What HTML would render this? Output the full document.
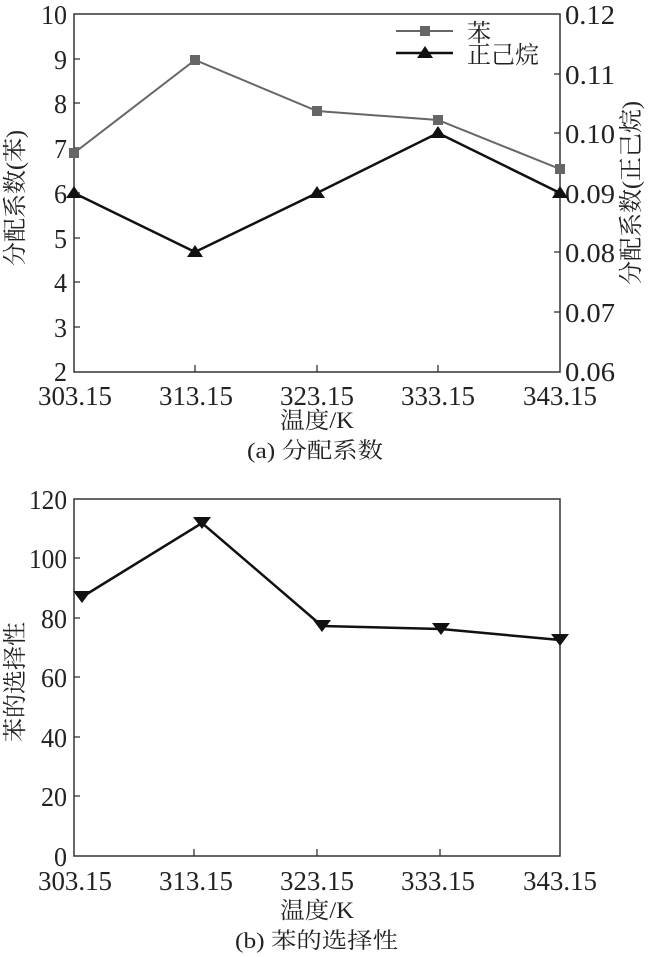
<!DOCTYPE html>
<html><head><meta charset="utf-8"><style>
html,body{margin:0;padding:0;background:#fff;}
svg{display:block;}
text{font-family:"Liberation Serif","Noto Serif CJK SC",serif;fill:#222;}
</style></head><body>
<svg width="650" height="957" viewBox="0 0 650 957" xmlns="http://www.w3.org/2000/svg">
<!-- Top chart -->
<rect x="74" y="14" width="486" height="358" fill="none" stroke="#333" stroke-width="1.5"/>
<g stroke="#333" stroke-width="1.3">
<line x1="74" y1="59" x2="80" y2="59"/><line x1="74" y1="103" x2="80" y2="103"/><line x1="74" y1="148" x2="80" y2="148"/>
<line x1="74" y1="193" x2="80" y2="193"/><line x1="74" y1="238" x2="80" y2="238"/><line x1="74" y1="282" x2="80" y2="282"/><line x1="74" y1="327" x2="80" y2="327"/>
<line x1="560" y1="74" x2="554" y2="74"/><line x1="560" y1="133" x2="554" y2="133"/><line x1="560" y1="193" x2="554" y2="193"/>
<line x1="560" y1="252" x2="554" y2="252"/><line x1="560" y1="312" x2="554" y2="312"/>
<line x1="195" y1="372" x2="195" y2="365"/><line x1="317" y1="372" x2="317" y2="365"/><line x1="438" y1="372" x2="438" y2="365"/>
</g>
<g font-size="27" text-anchor="end">
<text x="67" y="24" textLength="26" lengthAdjust="spacingAndGlyphs">10</text>
<text x="67" y="69" textLength="13" lengthAdjust="spacingAndGlyphs">9</text>
<text x="67" y="113" textLength="13" lengthAdjust="spacingAndGlyphs">8</text>
<text x="67" y="158" textLength="13" lengthAdjust="spacingAndGlyphs">7</text>
<text x="67" y="203" textLength="13" lengthAdjust="spacingAndGlyphs">6</text>
<text x="67" y="248" textLength="13" lengthAdjust="spacingAndGlyphs">5</text>
<text x="67" y="292" textLength="13" lengthAdjust="spacingAndGlyphs">4</text>
<text x="67" y="337" textLength="13" lengthAdjust="spacingAndGlyphs">3</text>
<text x="67" y="381" textLength="13" lengthAdjust="spacingAndGlyphs">2</text>
</g>
<g font-size="27" text-anchor="start">
<text x="565" y="24" textLength="50" lengthAdjust="spacingAndGlyphs">0.12</text>
<text x="565" y="84" textLength="50" lengthAdjust="spacingAndGlyphs">0.11</text>
<text x="565" y="143" textLength="50" lengthAdjust="spacingAndGlyphs">0.10</text>
<text x="565" y="203" textLength="50" lengthAdjust="spacingAndGlyphs">0.09</text>
<text x="565" y="262" textLength="50" lengthAdjust="spacingAndGlyphs">0.08</text>
<text x="565" y="322" textLength="50" lengthAdjust="spacingAndGlyphs">0.07</text>
<text x="565" y="381" textLength="50" lengthAdjust="spacingAndGlyphs">0.06</text>
</g>
<g font-size="27">
<text x="38" y="405" textLength="74" lengthAdjust="spacingAndGlyphs">303.15</text>
<text x="159" y="405" textLength="74" lengthAdjust="spacingAndGlyphs">313.15</text>
<text x="280" y="405" textLength="74" lengthAdjust="spacingAndGlyphs">323.15</text>
<text x="401" y="405" textLength="74" lengthAdjust="spacingAndGlyphs">333.15</text>
<text x="523" y="405" textLength="74" lengthAdjust="spacingAndGlyphs">343.15</text>
</g>
<text x="280" y="428" font-size="23" textLength="74" lengthAdjust="spacingAndGlyphs">温度/K</text>
<text x="247" y="458" font-size="22" textLength="136" lengthAdjust="spacingAndGlyphs">(a) 分配系数</text>
<text font-size="24" text-anchor="middle" transform="translate(23,198) rotate(-90)">分配系数(苯)</text>
<text font-size="24" text-anchor="middle" transform="translate(639,193) rotate(-90)">分配系数(正己烷)</text>
<polyline points="74,153 195,60 317,111 438,120 560,169" fill="none" stroke="#666" stroke-width="2"/>
<g fill="#666">
<rect x="69" y="148" width="10" height="10"/><rect x="190" y="55" width="10" height="10"/><rect x="312" y="106" width="10" height="10"/>
<rect x="433" y="115" width="10" height="10"/><rect x="555" y="164" width="10" height="10"/>
</g>
<polyline points="74,193 195,252 317,193 438,133 560,193" fill="none" stroke="#111" stroke-width="2.5"/>
<g fill="#111">
<polygon points="74,186 82,198 66,198"/><polygon points="195,245 203,257 187,257"/><polygon points="317,186 325,198 309,198"/>
<polygon points="438,126 446,138 430,138"/><polygon points="560,186 568,198 552,198"/>
</g>
<line x1="396" y1="31" x2="453" y2="31" stroke="#666" stroke-width="2"/><rect x="420" y="26" width="10" height="10" fill="#666"/>
<line x1="396" y1="53" x2="453" y2="53" stroke="#111" stroke-width="2.5"/><polygon points="425,46 433,58 417,58" fill="#111"/>
<text x="467" y="41" font-size="24">苯</text>
<text x="467" y="63" font-size="24">正己烷</text>

<!-- Bottom chart -->
<rect x="74" y="499" width="486" height="357" fill="none" stroke="#333" stroke-width="1.5"/>
<g stroke="#333" stroke-width="1.3">
<line x1="74" y1="558" x2="80" y2="558"/><line x1="74" y1="618" x2="80" y2="618"/><line x1="74" y1="677" x2="80" y2="677"/>
<line x1="74" y1="737" x2="80" y2="737"/><line x1="74" y1="796" x2="80" y2="796"/>
<line x1="194" y1="856" x2="194" y2="849"/><line x1="317" y1="856" x2="317" y2="849"/><line x1="440" y1="856" x2="440" y2="849"/>
</g>
<g font-size="27" text-anchor="end">
<text x="67" y="509" textLength="38" lengthAdjust="spacingAndGlyphs">120</text>
<text x="67" y="568" textLength="38" lengthAdjust="spacingAndGlyphs">100</text>
<text x="67" y="628" textLength="26" lengthAdjust="spacingAndGlyphs">80</text>
<text x="67" y="687" textLength="26" lengthAdjust="spacingAndGlyphs">60</text>
<text x="67" y="747" textLength="26" lengthAdjust="spacingAndGlyphs">40</text>
<text x="67" y="806" textLength="26" lengthAdjust="spacingAndGlyphs">20</text>
<text x="67" y="866" textLength="13" lengthAdjust="spacingAndGlyphs">0</text>
</g>
<g font-size="27">
<text x="38" y="890" textLength="74" lengthAdjust="spacingAndGlyphs">303.15</text>
<text x="159" y="890" textLength="74" lengthAdjust="spacingAndGlyphs">313.15</text>
<text x="280" y="890" textLength="74" lengthAdjust="spacingAndGlyphs">323.15</text>
<text x="401" y="890" textLength="74" lengthAdjust="spacingAndGlyphs">333.15</text>
<text x="523" y="890" textLength="74" lengthAdjust="spacingAndGlyphs">343.15</text>
</g>
<text x="280" y="918" font-size="23" textLength="74" lengthAdjust="spacingAndGlyphs">温度/K</text>
<text x="235" y="948" font-size="22" textLength="163" lengthAdjust="spacingAndGlyphs">(b) 苯的选择性</text>
<text font-size="24" text-anchor="middle" transform="translate(23,682) rotate(-90)">苯的选择性</text>
<polyline points="82,597 202,523 322,626 441,629 560,640" fill="none" stroke="#111" stroke-width="2.5"/>
<g fill="#111">
<polygon points="73,591 91,591 82,603"/><polygon points="193,517 211,517 202,529"/><polygon points="313,620 331,620 322,632"/>
<polygon points="432,623 450,623 441,635"/><polygon points="551,634 569,634 560,646"/>
</g>
</svg>
</body></html>
